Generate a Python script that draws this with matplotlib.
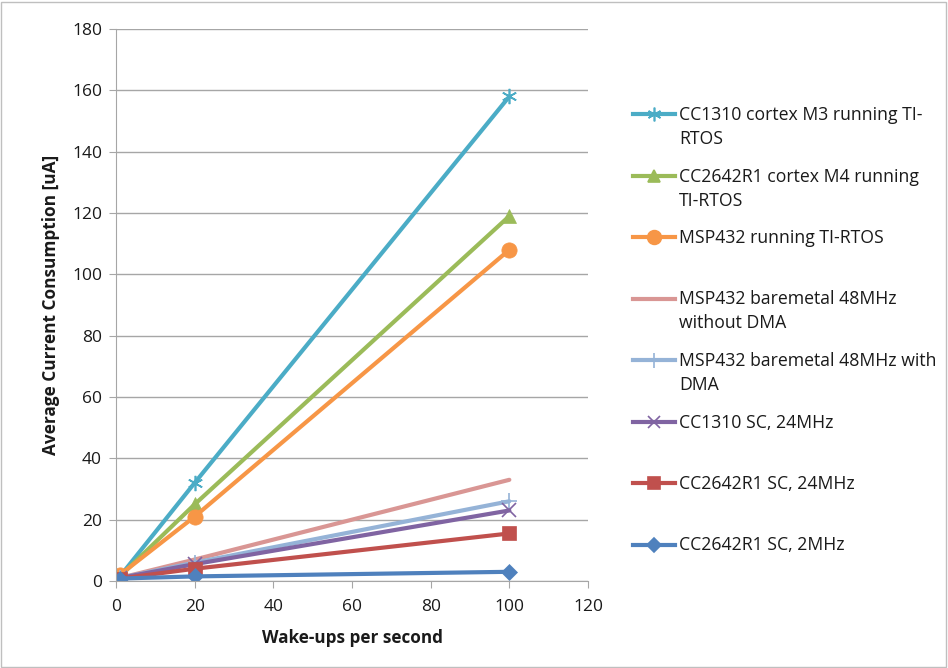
import numpy as np
import matplotlib
matplotlib.use('Agg')
import matplotlib.pyplot as plt
from matplotlib.lines import Line2D
from matplotlib.patches import Rectangle

plt.rcParams['font.family'] = ['Open Sans', 'DejaVu Sans']

wakeups = [1, 20, 100]
cc1310_m3 = [1.5, 32, 158]
cc2642_m4 = [1.5, 25, 119]
msp432_rtos = [2, 21, 108]
msp432_nodma = [1, 7, 33]
msp432_dma = [1, 6, 26]
cc1310_sc = [1, 5.5, 23]
cc2642_sc24 = [0.8, 4, 15.5]
cc2642_sc2 = [0.8, 1.5, 3]

labels = ['CC1310 cortex M3 running TI-\nRTOS',
          'CC2642R1 cortex M4 running\nTI-RTOS',
          'MSP432 running TI-RTOS',
          'MSP432 baremetal 48MHz\nwithout DMA',
          'MSP432 baremetal 48MHz with\nDMA',
          'CC1310 SC, 24MHz',
          'CC2642R1 SC, 24MHz',
          'CC2642R1 SC, 2MHz']
series = [cc1310_m3, cc2642_m4, msp432_rtos, msp432_nodma,
          msp432_dma, cc1310_sc, cc2642_sc24, cc2642_sc2]
colors = ['#4BACC6', '#9BBB59', '#F79646', '#D99694',
          '#95B3D7', '#8064A2', '#C0504D', '#4F81BD']
markers = [(6, 2, 0), '^', 'o', None, '+', 'x', 's', 'D']
msizes = [11, 10, 11, 0, 12, 10, 10, 8]

fig = plt.figure(figsize=(9.48, 6.68), dpi=100)
ax = fig.add_axes([116/948, 1-581/668, (588-116)/948, (581-29)/668])

for ys, c, m, ms in zip(series, colors, markers, msizes):
    ax.plot(wakeups, ys, color=c, lw=3, marker=m, markersize=ms,
            markeredgewidth=1.2 if m in ['+', 'x', (6, 2, 0)] else 0.5,
            markeredgecolor=c, markerfacecolor=c, solid_capstyle='round')

ax.set_xlim(0, 120)
ax.set_ylim(0, 180)
ax.set_xticks(np.arange(0, 121, 20))
ax.set_yticks(np.arange(0, 181, 20))
ax.grid(axis='y', color='#A6A6A6', lw=1)
ax.set_axisbelow(True)
for s in ['top', 'right']:
    ax.spines[s].set_visible(False)
for s in ['left', 'bottom']:
    ax.spines[s].set_color('#A6A6A6')
ax.tick_params(colors='#A6A6A6', labelcolor='#1a1a1a', labelsize=12.5, length=5,
               direction='out', pad=5)
ax.tick_params(axis='x', pad=8)
ax.set_xlabel('Wake-ups per second', fontsize=12.3, fontweight='bold', labelpad=10,
              color='#1a1a1a')
ax.set_ylabel('Average Current Consumption [uA]', fontsize=12.4, fontweight='bold',
              labelpad=9, color='#1a1a1a')

# legend, drawn by hand so the marker lines up with the first text line
y0 = 114
for i, (lab, c, m, ms) in enumerate(zip(labels, colors, markers, msizes)):
    ypx = y0 + i * 61.5
    yy = 1 - ypx / 668
    fig.add_artist(Line2D([633/948, 675/948], [yy, yy], color=c, lw=3,
                          transform=fig.transFigure))
    if m is not None:
        fig.add_artist(Line2D([654/948], [yy], color=c, marker=m, markersize=ms * 0.9,
                              markeredgewidth=1.2, markerfacecolor=c, markeredgecolor=c,
                              transform=fig.transFigure))
    for j, line in enumerate(lab.split('\n')):
        fig.text(679/948, 1 - (ypx + 6 + j * 24) / 668, line, fontsize=12.7,
                 va='baseline', ha='left', color='#1a1a1a')

fig.add_artist(Rectangle((1/948, 1/668), 945/948, 665/668, fill=False,
                         edgecolor='#BFBFBF', lw=1, transform=fig.transFigure))

fig.savefig('out.png', dpi=100)
